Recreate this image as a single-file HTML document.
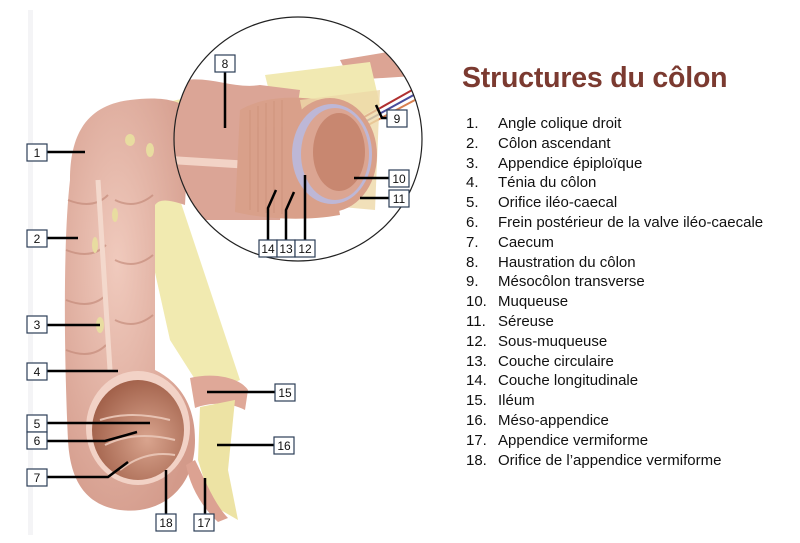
<!DOCTYPE html>
<html><head><meta charset="utf-8"><style>
body{margin:0;background:#fff;width:800px;height:543px;overflow:hidden;position:relative;font-family:"Liberation Sans",sans-serif}
svg{position:absolute;left:0;top:0}
.t{position:absolute;left:462px;top:62px;font:bold 28.5px "Liberation Sans",sans-serif;color:#7b3a30;letter-spacing:-0.2px}
.l{position:absolute;left:466px;top:114px;font-size:15px;line-height:19.8px;color:#111}
.l div{white-space:nowrap}.l span{display:inline-block;width:32px}
</style></head><body>
<svg width="800" height="543" viewBox="0 0 800 543">
<defs>
<clipPath id="c"><ellipse cx="298" cy="139" rx="124" ry="122"/></clipPath>
<radialGradient id="pk" cx="40%" cy="40%" r="70%"><stop offset="0" stop-color="#f0cabd"/><stop offset="1" stop-color="#d39a8a"/></radialGradient>
<radialGradient id="in" cx="60%" cy="60%" r="70%"><stop offset="0" stop-color="#d9a48e"/><stop offset="1" stop-color="#9c5a43"/></radialGradient>
</defs>
<rect x="28" y="10" width="5" height="525" fill="#f4f4f6"/>
<path d="M130 110 L200 95 L180 200 L200 260 L240 380 L205 395 L170 340 L150 250 Z" fill="#f1eab0"/>
<path d="M70 180 C70 130 90 105 130 100 C160 96 180 100 190 110 L185 205 C170 200 160 198 155 205 L155 370 C175 380 195 400 195 440 C195 490 160 515 120 510 C85 505 70 480 68 440 C65 380 62 250 70 180 Z" fill="url(#pk)"/>
<g stroke="#c08574" stroke-width="2" fill="none" opacity=".6">
<path d="M68 200 q25 10 40 -5"/><path d="M66 250 q25 10 40 -5"/><path d="M66 300 q25 10 40 -5"/><path d="M66 350 q25 10 40 -5"/>
<path d="M115 200 q20 10 38 -5"/><path d="M115 260 q20 10 38 -5"/><path d="M115 320 q20 10 38 -5"/>
</g>
<path d="M98 180 L110 370" stroke="#f3d8cc" stroke-width="5"/>
<g fill="#e8dca0"><ellipse cx="100" cy="325" rx="4" ry="8"/><ellipse cx="95" cy="245" rx="3" ry="8"/><ellipse cx="130" cy="140" rx="5" ry="6"/><ellipse cx="150" cy="150" rx="4" ry="7"/><ellipse cx="115" cy="215" rx="3" ry="7"/></g>
<path d="M190 378 C215 372 240 378 248 390 L245 410 C230 402 210 402 195 408 Z" fill="#dfa898"/>
<path d="M200 407 L235 400 L228 470 L238 520 L212 505 L198 460 Z" fill="#ede3a4"/>
<path d="M195 460 C205 480 215 505 228 518 L218 522 C200 505 190 485 186 465 Z" fill="#dca292"/>
<ellipse cx="138" cy="428" rx="52" ry="57" fill="#f2d2c6"/>
<ellipse cx="138" cy="430" rx="46" ry="50" fill="url(#in)"/>
<g stroke="#e7c2b2" stroke-width="2" fill="none"><path d="M100 420 q30 -10 70 0"/><path d="M105 445 q30 -15 70 -5"/><path d="M120 470 q25 -20 55 -15"/></g>
<ellipse cx="298" cy="139" rx="124" ry="122" fill="#fff"/>
<g clip-path="url(#c)">
<path d="M340 60 L430 45 L430 75 L350 80 Z" fill="#dca494"/>
<path d="M265 75 L370 62 L380 105 L360 118 L270 95 Z" fill="#f1e9b2"/>
<path d="M350 125 L430 80" stroke="#b03030" stroke-width="2"/><path d="M352 129 L430 86" stroke="#4a4c9a" stroke-width="2"/><path d="M355 132 L430 92" stroke="#d88050" stroke-width="2"/>
<path d="M170 85 C200 70 230 90 260 85 L300 90 L280 220 L170 220 Z" fill="#dba596"/>
<path d="M170 160 L300 168" stroke="#f2d3c6" stroke-width="8"/>
<path d="M240 110 C260 98 290 95 320 100 L340 215 C300 222 260 218 235 212 Z" fill="#d9a08a"/>
<g stroke="#c98d77" stroke-width="1" opacity=".7"><path d="M250 110 v100"/><path d="M258 106 v106"/><path d="M266 103 v110"/><path d="M274 101 v112"/><path d="M282 100 v114"/></g>
<path d="M300 100 L380 90 L375 210 L320 205 Z" fill="#eed8a8" opacity=".8"/>
<ellipse cx="330" cy="155" rx="47" ry="57" fill="#d9a08a"/>
<ellipse cx="332" cy="154" rx="40" ry="50" fill="#bdb7d6"/>
<ellipse cx="335" cy="154" rx="34" ry="46" fill="#dba592"/>
<ellipse cx="339" cy="152" rx="26" ry="39" fill="#c88770"/>
</g>
<ellipse cx="298" cy="139" rx="124" ry="122" fill="none" stroke="#222" stroke-width="1.2"/>
<g stroke="#000" stroke-width="2.5" fill="none">
<path d="M47 152 H85"/><path d="M47 238 H78"/><path d="M47 325 H100"/><path d="M47 371 H118"/>
<path d="M47 423 H150"/><path d="M47 441 H105 L137 432"/><path d="M47 477 H108 L128 462"/>
<path d="M225 72 V128"/><path d="M387 118 H382 L376 105"/><path d="M389 178 H354"/><path d="M389 198 H360"/>
<path d="M268 240 V208 L276 190"/><path d="M286 240 V210 L294 192"/><path d="M305 240 V175"/>
<path d="M275 392 H207"/><path d="M274 445 H217"/><path d="M166 514 V470"/><path d="M205 514 V478"/>
</g>
<g fill="#fff" stroke="#2c3e57" stroke-width="1.2">
<rect x="27" y="144" width="20" height="17"/><rect x="27" y="230" width="20" height="17"/><rect x="27" y="316" width="20" height="17"/><rect x="27" y="363" width="20" height="17"/>
<rect x="27" y="415" width="20" height="17"/><rect x="27" y="432" width="20" height="17"/><rect x="27" y="469" width="20" height="17"/>
<rect x="215" y="55" width="20" height="17"/><rect x="387" y="110" width="20" height="17"/><rect x="389" y="170" width="20" height="17"/><rect x="389" y="190" width="20" height="17"/>
<rect x="259" y="240" width="18" height="17"/><rect x="277" y="240" width="18" height="17"/><rect x="295" y="240" width="20" height="17"/>
<rect x="275" y="384" width="20" height="17"/><rect x="274" y="437" width="20" height="17"/><rect x="156" y="514" width="20" height="17"/><rect x="194" y="514" width="20" height="17"/>
</g>
<g font-family="Liberation Sans,sans-serif" font-size="12" fill="#111" text-anchor="middle">
<text x="37" y="157">1</text><text x="37" y="243">2</text><text x="37" y="329">3</text><text x="37" y="376">4</text>
<text x="37" y="428">5</text><text x="37" y="445">6</text><text x="37" y="482">7</text>
<text x="225" y="68">8</text><text x="397" y="123">9</text><text x="399" y="183">10</text><text x="399" y="203">11</text>
<text x="268" y="253">14</text><text x="286" y="253">13</text><text x="305" y="253">12</text>
<text x="285" y="397">15</text><text x="284" y="450">16</text><text x="166" y="527">18</text><text x="204" y="527">17</text>
</g>
</svg>
<div class="t">Structures du côlon</div>
<div class="l">
<div><span>1.</span>Angle colique droit</div>
<div><span>2.</span>Côlon ascendant</div>
<div><span>3.</span>Appendice épiploïque</div>
<div><span>4.</span>Ténia du côlon</div>
<div><span>5.</span>Orifice iléo-caecal</div>
<div><span>6.</span>Frein postérieur de la valve iléo-caecale</div>
<div><span>7.</span>Caecum</div>
<div><span>8.</span>Haustration du côlon</div>
<div><span>9.</span>Mésocôlon transverse</div>
<div><span>10.</span>Muqueuse</div>
<div><span>11.</span>Séreuse</div>
<div><span>12.</span>Sous-muqueuse</div>
<div><span>13.</span>Couche circulaire</div>
<div><span>14.</span>Couche longitudinale</div>
<div><span>15.</span>Iléum</div>
<div><span>16.</span>Méso-appendice</div>
<div><span>17.</span>Appendice vermiforme</div>
<div><span>18.</span>Orifice de l’appendice vermiforme</div>
</div>
</body></html>
